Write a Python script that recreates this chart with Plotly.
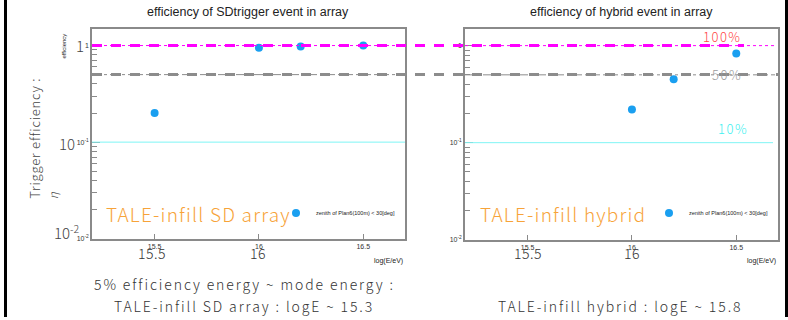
import math
import plotly.graph_objects as go

# ---- data -------------------------------------------------------------
logE_sd = [15.5, 16.0, 16.2, 16.5]
eff_sd = [0.20, 0.95, 0.98, 1.00]

logE_hyb = [16.0, 16.2, 16.5]
eff_hyb = [0.22, 0.45, 0.83]

levels = [1.0, 0.5, 0.1]
level_labels = ["100%", "50%", "10%"]

x_ticks = [15.5, 16.0, 16.5]
x_ticktext = ["15.5", "16", "16.5"]
y_ticks = [0.01, 0.1, 1.0]
y_ticktext = ["10<sup>-2</sup>", "10<sup>-1</sup>", "1"]
y_minor = [m * d for d in (0.01, 0.1, 1.0) for m in range(2, 10)]

series_name = "zenith of Plan6(100m) < 30[deg]"

# ---- canvas helpers ---------------------------------------------------
W, H = 788, 320


def px(x):
    return x / W


def py(y):
    return 1 - y / H


SLIDE_FONT = "Noto Sans CJK JP"
ROOT_FONT = "Liberation Sans"
FRAME = "#8a8a8a"
DOT = "#1a9ff0"


def spaced(text, ls):
    return f'<span style="letter-spacing:{ls}px">{text}</span>'


fig = go.Figure()

fig.add_trace(go.Scatter(
    x=logE_sd, y=eff_sd, mode="markers", name=series_name,
    marker=dict(color=DOT, size=8), xaxis="x", yaxis="y", legend="legend",
))
fig.add_trace(go.Scatter(
    x=logE_hyb, y=eff_hyb, mode="markers", name=series_name,
    marker=dict(color=DOT, size=8), xaxis="x2", yaxis="y2", legend="legend2",
))

xaxis_common = dict(
    type="linear", range=[15.2, 16.7], tickvals=x_ticks, ticktext=x_ticktext,
    ticks="inside", ticklen=5, tickcolor=FRAME, tickwidth=1,
    showline=True, linecolor=FRAME, linewidth=1.5, mirror=True,
    showgrid=False, zeroline=False,
    tickfont=dict(family=ROOT_FONT, size=7, color="#333"),
)
yaxis_common = dict(
    type="log", range=[-2, 0.174], tickvals=y_ticks, ticktext=y_ticktext,
    ticks="inside", ticklen=8, tickcolor=FRAME, tickwidth=1,
    minor=dict(tickvals=y_minor, ticks="inside", ticklen=5, tickcolor=FRAME),
    showline=True, linecolor=FRAME, linewidth=1.5, mirror=True,
    showgrid=False, zeroline=False,
    tickfont=dict(family=ROOT_FONT, size=7, color="#333"),
)

legend_common = dict(
    xanchor="left", yanchor="middle", bgcolor="rgba(0,0,0,0)", itemwidth=30,
    font=dict(family=ROOT_FONT, size=5.5, color="#222"),
)

fig.update_layout(
    width=W, height=H, margin=dict(l=0, r=0, t=0, b=0),
    paper_bgcolor="white", plot_bgcolor="white",
    xaxis=dict(domain=[px(92), px(405)], anchor="y", **xaxis_common),
    yaxis=dict(domain=[py(241), py(29)], anchor="x", **yaxis_common),
    xaxis2=dict(domain=[px(465), px(778)], anchor="y2", **xaxis_common),
    yaxis2=dict(domain=[py(242), py(29)], anchor="x2", **yaxis_common),
    legend=dict(x=px(276), y=py(215), **legend_common),
    legend2=dict(x=px(649), y=py(215), **legend_common),
    showlegend=True,
)

# ---- threshold lines --------------------------------------------------
level_style = {
    1.0: dict(color="#ff00ff", thin="dot", thick_end=744),
    0.5: dict(color="#8c8c8c", thin="dashdot", thick_end=778),
}
for yv, st in level_style.items():
    # thin in-frame lines of each panel
    for x0, x1, yr in ((92, 405, "y"), (465, 775, "y2")):
        fig.add_shape(type="line", xref="paper", yref=yr,
                      x0=px(x0), x1=px(x1), y0=yv, y1=yv,
                      line=dict(color=st["color"], width=1, dash=st["thin"]))
    # bold dashed guide running across both panels
    fig.add_shape(type="line", xref="paper", yref="y",
                  x0=px(92), x1=px(st["thick_end"]), y0=yv, y1=yv,
                  line=dict(color=st["color"], width=3, dash="10px,9px"))

for x0, x1, yr in ((92, 405, "y"), (465, 773, "y2")):
    fig.add_shape(type="line", xref="paper", yref=yr,
                  x0=px(x0), x1=px(x1), y0=levels[2], y1=levels[2],
                  line=dict(color="#7ff5f5", width=1))

# level captions on the hybrid panel (annotation y on a log axis is log10)
caption_colors = ["#ff4747", "#9a9a9a", "#3ff0f0"]
caption_shift = [9, 0, 14]
caption_x = [744, 744, 750]
for lv, lab, c, s, cx in zip(levels, level_labels, caption_colors, caption_shift, caption_x):
    fig.add_annotation(x=px(cx), y=math.log10(lv), xref="paper", yref="y2",
                       text=spaced(lab, 1.5), showarrow=False, yshift=s,
                       xanchor="right",
                       font=dict(family=SLIDE_FONT, size=13, color=c, weight=300))

# ---- frame text -------------------------------------------------------
def note(x, y, text, size, color="#333", family=SLIDE_FONT, angle=0,
         xanchor="center", yanchor="middle", ls=0, weight=None):
    if ls:
        text = spaced(text, ls)
    font = dict(family=family, size=size, color=color)
    if weight:
        font["weight"] = weight
    fig.add_annotation(x=px(x), y=py(y), xref="paper", yref="paper",
                       text=text, showarrow=False, textangle=angle,
                       xanchor=xanchor, yanchor=yanchor, font=font)


# panel titles
note(248, 12, "efficiency of SDtrigger event in array", 12.5, "#222", ROOT_FONT)
note(621, 12, "efficiency of hybrid event in array", 12.5, "#222", ROOT_FONT)

# axis titles
note(64, 46, "efficiency", 6, "#222", ROOT_FONT, angle=-90)
note(35, 140, "Trigger efficiency :", 13, "#444", angle=-90, ls=0.8, weight=300)
note(52, 197, "<i>η</i>", 12, "#444", angle=-90, weight=300)
note(405, 263, "log(E/eV)", 7, "#222", ROOT_FONT, xanchor="right")
note(778, 263, "log(E/eV)", 7, "#222", ROOT_FONT, xanchor="right")

# enlarged tick values
note(80, 46, "1", 15, "#444", weight=300)
note(67, 145, "10", 15, "#444", weight=300)
note(67, 234, "10<sup>-2</sup>", 15, "#444", weight=300)
note(152, 255, "15.5", 14, "#333", ls=0.5, weight=300)
note(258, 255, "16", 14, "#333", ls=0.5, weight=300)
note(528, 255, "15.5", 14, "#333", ls=0.5, weight=300)
note(632, 255, "16", 14, "#333", ls=0.5, weight=300)

# panel labels
note(104, 216, "TALE-infill SD array", 19, "#f7a339", xanchor="left", ls=1.2, weight=300)
note(478, 216, "TALE-infill hybrid", 19, "#f7a339", xanchor="left", ls=1.2, weight=300)

# summary lines
note(244, 287, "5% efficiency energy ~ mode energy :", 14, "#333", ls=1.9, weight=300)
note(244, 309, "TALE-infill SD array : logE ~ 15.3", 14, "#333", ls=1.9, weight=300)
note(620, 309, "TALE-infill hybrid : logE ~ 15.8", 14, "#333", ls=1.9, weight=300)

# side rules
for xe in (5.5, 786.5):
    fig.add_shape(type="line", xref="paper", yref="paper",
                  x0=px(xe), x1=px(xe), y0=0, y1=1,
                  line=dict(color="black", width=3))

fig.write_html("out.html")
